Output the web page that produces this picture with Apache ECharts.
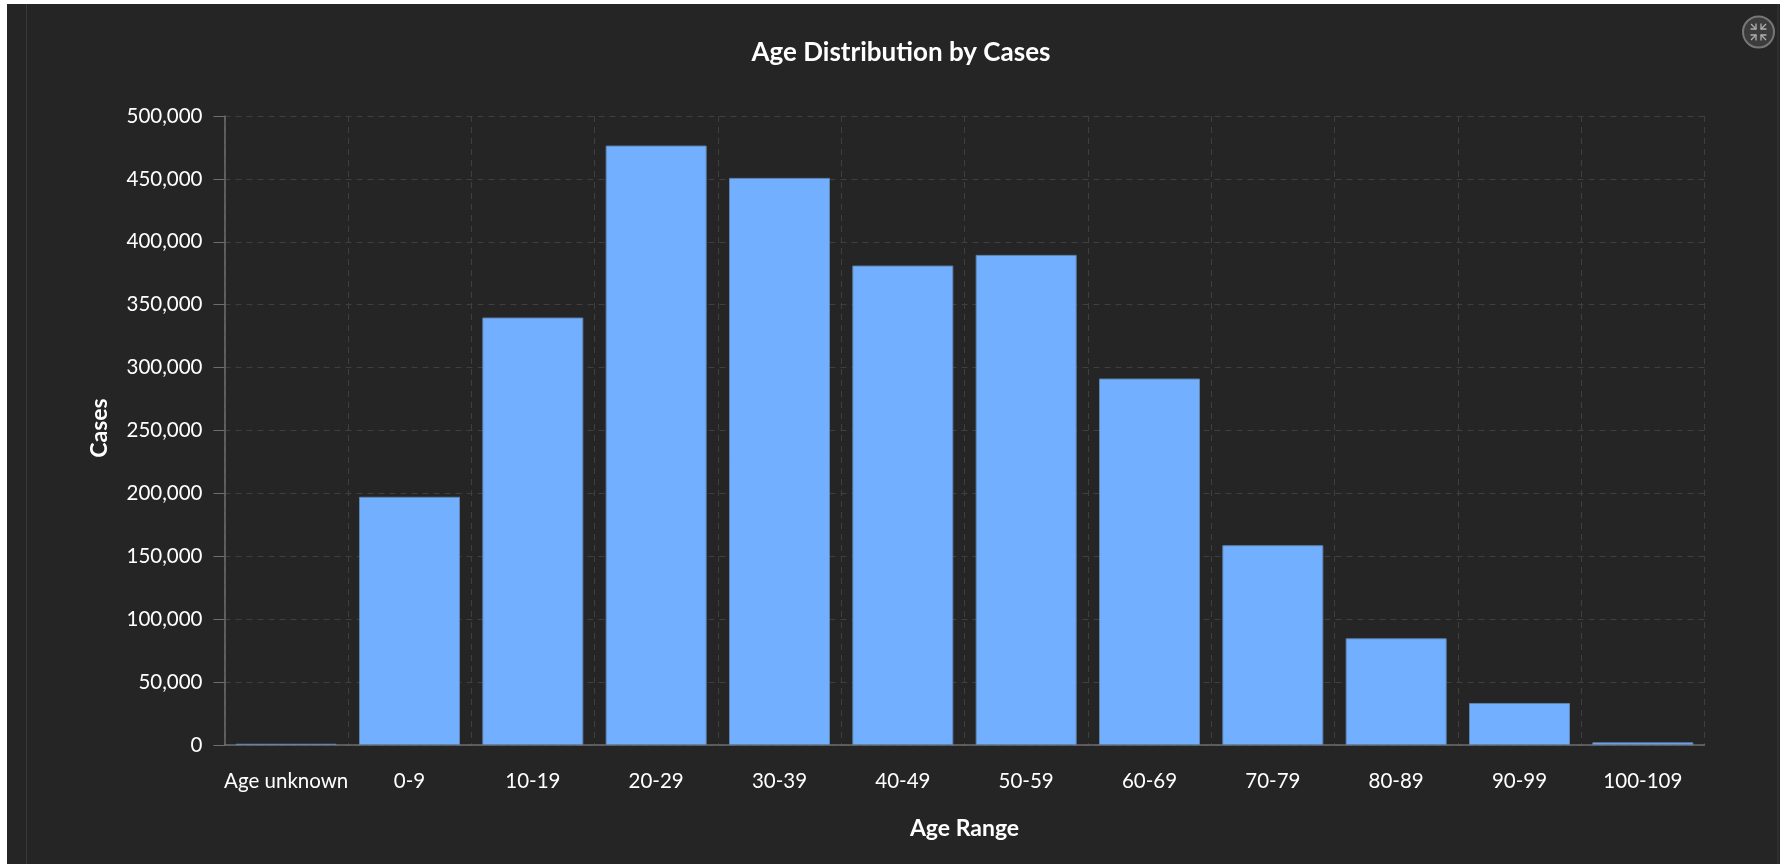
<!DOCTYPE html>
<html><head><meta charset="utf-8">
<script src="https://cdn.jsdelivr.net/npm/echarts@6/dist/echarts.min.js"></script>
<style>
html,body{margin:0;padding:0;background:#fff;width:1787px;height:864px;overflow:hidden}
#panel{position:absolute;left:7px;top:4px;width:1773px;height:860px;background:#252525}
#l1{position:absolute;left:19px;top:0;width:1px;height:860px;background:#3a3a3a}
#l2{position:absolute;left:1770px;top:0;width:2px;height:860px;background:#2e2e2e}
#chart{position:absolute;left:0;top:0;width:1787px;height:864px}
</style></head><body>
<div id="panel"><div id="l1"></div><div id="l2"></div></div>
<div id="chart"></div>
<script>
const categories = ['Age unknown','0-9','10-19','20-29','30-39','40-49','50-59','60-69','70-79','80-89','90-99','100-109'];
const cases = [1000,197300,339800,476500,450800,381100,389600,291300,158800,84800,33400,2100];
const titleText = 'Age Distribution by Cases';
const xName = 'Age Range';
const yName = 'Cases';
const font = 'Lato';
const chart = echarts.init(document.getElementById('chart'));
const arrow = (pts) => ({type:'polyline',shape:{points:pts},style:{fill:'none',stroke:'#b0b0b0',lineWidth:1.3},silent:true});
chart.setOption({
  backgroundColor:'transparent',
  animation:false,
  title:{text:titleText,left:896,top:35,textAlign:'center',textStyle:{color:'#ffffff',fontFamily:font,fontWeight:700,fontSize:26}},
  grid:{left:224.5,top:116,width:1480,height:629,containLabel:false},
  xAxis:{type:'category',data:categories,name:xName,nameLocation:'middle',nameGap:72,
    nameTextStyle:{color:'#ffffff',fontFamily:font,fontWeight:700,fontSize:23},
    axisLine:{lineStyle:{color:'#6e6e6e',width:1.5}},
    axisTick:{alignWithLabel:true,length:9,lineStyle:{color:'#6e6e6e',width:1}},
    axisLabel:{color:'#ffffff',fontFamily:font,fontSize:20.5,margin:26,interval:0},
    splitLine:{show:true,lineStyle:{color:'#3f3f3f',type:[6,5],width:1}}},
  yAxis:{type:'value',min:0,max:500000,interval:50000,name:yName,nameLocation:'middle',nameGap:113,
    nameTextStyle:{color:'#ffffff',fontFamily:font,fontWeight:700,fontSize:23,padding:[0,0,0,5]},
    axisLine:{show:true,lineStyle:{color:'#6e6e6e',width:1.5}},
    axisTick:{show:true,length:11,lineStyle:{color:'#6e6e6e',width:1}},
    axisLabel:{color:'#ffffff',fontFamily:font,fontSize:20.5,margin:22,formatter:v=>v.toLocaleString('en-US')},
    splitLine:{show:true,lineStyle:{color:'#3f3f3f',type:[6,5],width:1}}},
  series:[{type:'bar',data:cases,barWidth:101,itemStyle:{color:'#72b0ff',borderColor:'#5f84b0',borderWidth:1}}],
  graphic:[{type:'group',x:1742,y:15,silent:true,children:[
    {type:'circle',shape:{cx:16.5,cy:17,r:15.5},style:{fill:'#3c3c3c',stroke:'#777777',lineWidth:2}},
    arrow([[8.5,14],[14,14],[14,8.5]]),arrow([[14,14],[9,9]]),
    arrow([[24.5,14],[19,14],[19,8.5]]),arrow([[19,14],[24,9]]),
    arrow([[8.5,20],[14,20],[14,25.5]]),arrow([[14,20],[9,25]]),
    arrow([[24.5,20],[19,20],[19,25.5]]),arrow([[19,20],[24,25]])
  ]}]
});
</script></body></html>
